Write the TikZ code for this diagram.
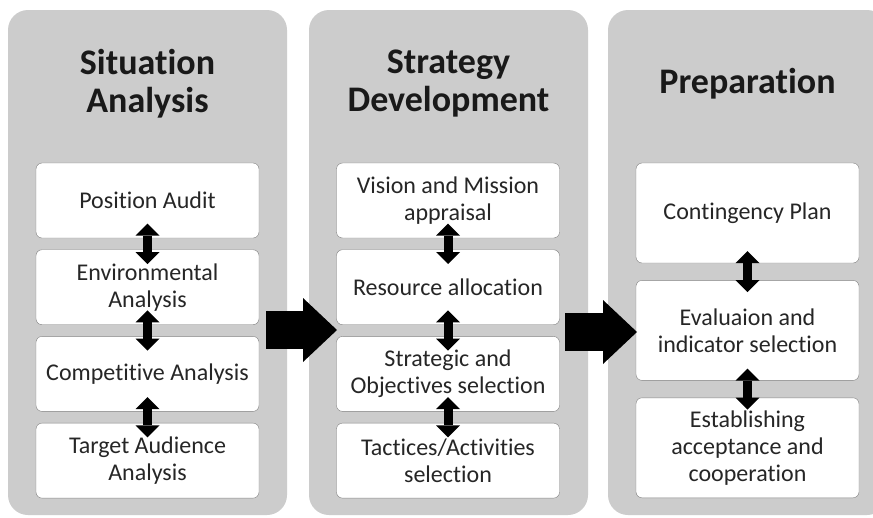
\documentclass[tikz,border=0pt]{standalone}
\usepackage{fontspec}
\setmainfont{Carlito}[RawFeature={-liga;-clig;-calt;-dlig}]
\usetikzlibrary{positioning, arrows.meta}

\definecolor{panelgray}{RGB}{204,204,204}
\definecolor{boxline}{RGB}{128,128,128}
\definecolor{inktext}{RGB}{38,38,38}

\begin{document}
\begin{tikzpicture}[x=1pt, y=-1pt, node distance=11.3pt]
\tikzstyle{panel}=[fill=panelgray, draw=none, rounded corners=20pt, minimum width=279pt, minimum height=505pt, inner sep=0pt]
\tikzstyle{title}=[align=center, font=\fontsize{36}{38}\selectfont\bfseries, text=black!90]
\tikzstyle{stepbox}=[draw=boxline, fill=white, rounded corners=6pt, minimum width=223pt, minimum height=75pt, align=center, inner sep=2pt, font=\fontsize{24}{27}\selectfont, text=inktext]
\tikzstyle{tallbox}=[stepbox, minimum height=100pt]
\tikzstyle{link}=[line width=9pt, {Triangle[width=24pt,length=12pt,line width=0pt]}-{Triangle[width=24pt,length=12pt,line width=0pt]}, shorten <=-14.5pt, shorten >=-14.5pt]
\tikzstyle{flow}=[line width=38pt, -{Triangle[width=64pt,length=34pt,line width=0pt]}]
\clip (0,0) rectangle (873,517);
\fill[white] (0,0) rectangle (873,517);

% the three stages
\node[panel] (SA) at (147.5,262.5) {};
\node[panel] (SD) at (448.5,262.5) {};
\node[panel] (PR) at (747.5,262.5) {};
\node[title] (SAt) at (147.5,84) {Situation\\Analysis};
\node[title] (SDt) at (448.5,84) {Strategy\\Development};
\node[title] (PRt) at (747.5,84) {Preparation};

% situation analysis
\node[stepbox] (pos) at (147.5,200.5) {Position Audit};
\node[stepbox] (env) [below=of pos] {Environmental\\Analysis};
\node[stepbox] (comp) [below=of env] {Competitive Analysis};
\node[stepbox] (aud) [below=of comp] {Target Audience\\Analysis};

% strategy development
\node[stepbox] (vis) at (448,200.5) {Vision and Mission\\appraisal};
\node[stepbox] (res) [below=of vis] {Resource allocation};
\node[stepbox] (obj) [below=of res] {Strategic and\\Objectives selection};
\node[stepbox] (tac) [below=of obj] {Tactices/Activities\\selection};

% preparation
\node[tallbox] (cont) at (747.5,213) {Contingency Plan};
\node[tallbox] (eval) [below=17pt of cont] {Evaluaion and\\indicator selection};
\node[tallbox] (est) [below=17pt of eval] {Establishing\\acceptance and\\cooperation};

\draw[link] (pos) -- (env);
\draw[link] (env) -- (comp);
\draw[link] (comp) -- (aud);
\draw[link] (vis) -- (res);
\draw[link] (res) -- (obj);
\draw[link] (obj) -- (tac);
\draw[link, shorten <=-12pt, shorten >=-12pt] (cont) -- (eval);
\draw[link, shorten <=-12pt, shorten >=-12pt] (eval) -- (est);

% stage to stage
\coordinate (SAout) at (266,330);
\coordinate (SDin) at (337,330);
\coordinate (SDout) at (565,332);
\coordinate (PRin) at (637,332);
\draw[flow] (SAout) -- (SDin);
\draw[flow] (SDout) -- (PRin);
\end{tikzpicture}
\end{document}
